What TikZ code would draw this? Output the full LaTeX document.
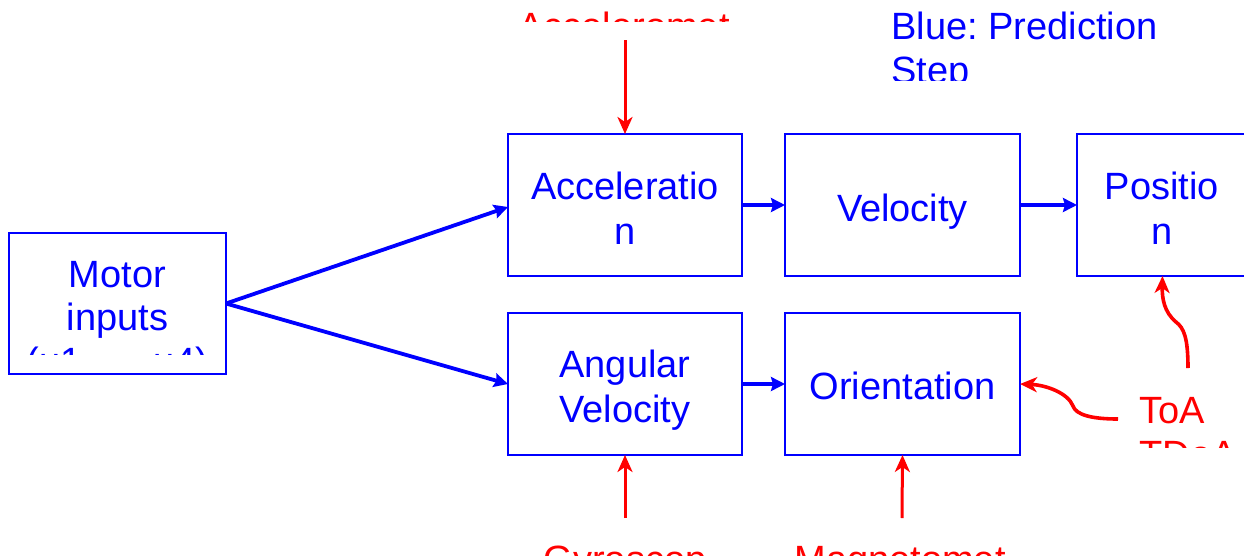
\documentclass[tikz,border=0pt]{standalone}
\usepackage{fontspec}
\setmainfont{Liberation Sans}
\frenchspacing
\usetikzlibrary{arrows.meta}
\definecolor{pblue}{RGB}{0,0,255}
\definecolor{pred}{RGB}{255,0,0}
\tikzset{
  blk/.style={draw=pblue, line width=0.75pt, inner sep=0pt, outer sep=0pt, minimum height=71pt},
  bt/.style={text=pblue, font=\fontsize{19}{22}\selectfont, inner sep=0pt, anchor=base},
  rt/.style={text=pred, font=\fontsize{19}{22}\selectfont, inner sep=0pt, anchor=base},
  barrow/.style={draw=pblue, line width=1.9pt, -{Stealth[length=7pt,width=7pt,inset=1pt]}},
  rarrow/.style={draw=pred, line width=1.5pt, -{Stealth[length=8.5pt,width=7.5pt,inset=2.5pt]}},
  rcurve/.style={draw=pred, line width=1.8pt, -{Stealth[length=8.5pt,width=7.5pt,inset=2.5pt]}},
}
\begin{document}
\begin{tikzpicture}[x=0.5pt,y=-0.5pt]
\useasboundingbox (0,0) rectangle (1244,558);
% boxes
\node[blk, minimum width=108.5pt, minimum height=70.5pt] (motor) at (117.5,303.5) {};
\node[blk, minimum width=117pt] (acc) at (625,205) {};
\node[blk, minimum width=117.5pt] (vel) at (902.5,205) {};
\node[blk, minimum width=85.5pt] (pos) at (1162.5,205) {};
\node[blk, minimum width=117pt] (ang) at (625,384) {};
\node[blk, minimum width=117.5pt] (ori) at (902.5,384) {};
% box texts
\node[bt] (accA) at (625,199) {Acceleratio};
\node[bt] (accB) at (625,244) {n};
\node[bt] (velA) at (902.5,221) {Velocity};
\node[bt] (posA) at (1162,199) {Positio};
\node[bt] (posB) at (1162,244) {n};
\node[bt] (angA) at (625,377) {Angular};
\node[bt] (angB) at (625,422) {Velocity};
\node[bt] (oriA) at (902.5,399) {Orientation};
\node[bt] (motA) at (117.5,287) {Motor};
\node[bt] (motB) at (117.5,330) {inputs};
\begin{scope}
\clip (0,340) rectangle (240,354);
\node[bt] (motC) at (117.5,374) {(u1,\,…,\,u4)};
\end{scope}
% legend
\node[bt, anchor=base west] (leg1) at (891,39.3) {Blue: Prediction};
\begin{scope}
\clip (880,45) rectangle (1244,80);
\node[bt, anchor=base west] (leg2) at (891,83.3) {Step};
\end{scope}
% sensors
\begin{scope}
\clip (400,0) rectangle (850,21);
\node[rt] (accel) at (624,39.7) {Acceleromet};
\end{scope}
\begin{scope}
\clip (400,530) rectangle (1100,555);
\node[rt] (gyro) at (625,572.5) {Gyroscop};
\node[rt] (mag) at (900,572.5) {Magnetomet};
\end{scope}
\node[rt, anchor=base west] (toa) at (1139,423) {ToA};
\begin{scope}
\clip (1100,430) rectangle (1244,447);
\node[rt, anchor=base west] (tdoa) at (1139,467) {TDoA};
\end{scope}
% blue connectors
\draw[barrow] (motor.east) -- ([yshift=-1pt]acc.west);
\draw[barrow] (motor.east) -- (ang.west);
\draw[barrow] (acc.east) -- (vel.west);
\draw[barrow] (vel.east) -- (pos.west);
\draw[barrow] (ang.east) -- (ori.west);
% red connectors
\coordinate (accS) at (625,40);
\coordinate (gyrS) at (625,518);
\coordinate (magS) at (902,518);
\coordinate (toaP) at (1188,368);
\coordinate (toaO) at (1118,419);
\draw[rarrow] (accS) -- (acc.north);
\draw[rarrow] (gyrS) -- (ang.south);
\draw[rarrow] (magS) -- (ori.south);
\draw[rcurve] (toaP) .. controls (1188,338) and (1184,328) .. (1176,322)
  .. controls (1164,312) and (1162,298) .. (pos.south);
\draw[rcurve] (toaO) .. controls (1092,419) and (1076,415) .. (1073,406)
  .. controls (1068,393) and (1046,385) .. (ori.east);
\end{tikzpicture}
\end{document}
